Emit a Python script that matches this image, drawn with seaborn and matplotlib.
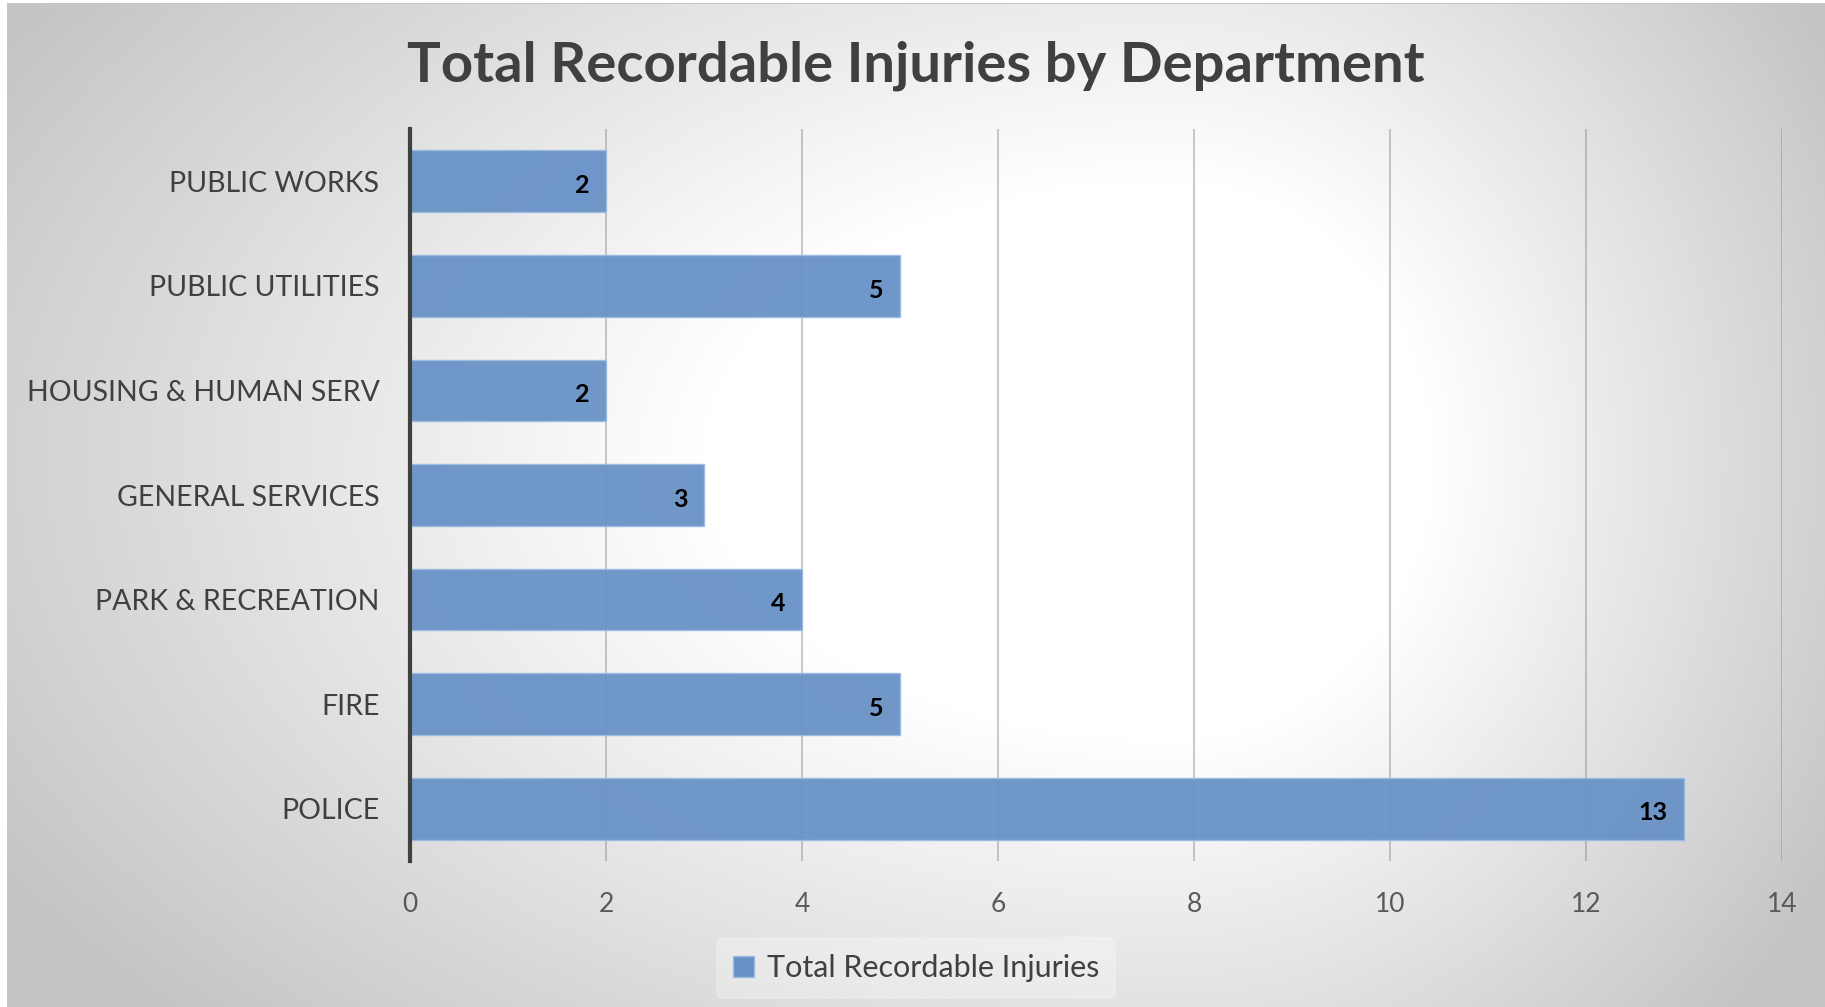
import numpy as np
import pandas as pd
import matplotlib
matplotlib.use("Agg")
import matplotlib.pyplot as plt
from matplotlib.patches import Patch
import seaborn as sns

# Chart data
departments = ["PUBLIC WORKS", "PUBLIC UTILITIES", "HOUSING & HUMAN SERV",
               "GENERAL SERVICES", "PARK & RECREATION", "FIRE", "POLICE"]
injuries = [2, 5, 2, 3, 4, 5, 13]
x_ticks = [0, 2, 4, 6, 8, 10, 12, 14]
series_name = "Total Recordable Injuries"
title_text = "Total Recordable Injuries by Department"

df = pd.DataFrame({"department": departments, "injuries": injuries})

sns.set_theme(style="white")
plt.rcParams["font.family"] = ["Lato", "DejaVu Sans"]

W, H, DPI = 1825, 1007, 100
fig = plt.figure(figsize=(W / DPI, H / DPI), dpi=DPI)

# Soft radial backdrop: white in the middle, grey towards the edges
cx, cy = 1170.0, 460.0
xx, yy = np.meshgrid(np.arange(W, dtype=float), np.arange(H, dtype=float))
u = np.where(xx < cx, (cx - xx) / cx, (xx - cx) / (W - cx))
v = np.abs(yy - cy) / 700.0
r = np.sqrt(u ** 2 + v ** 2)
shade = np.clip(1.0 - 0.30 * np.clip(r - 0.4, 0, None), 0.77, 1.0)
shade[:3, :] = 1.0
shade[3, 7:] = 0.78
shade[:, :7] = 1.0
rgb = np.dstack([shade, shade, shade])
bg = fig.add_axes([0, 0, 1, 1], zorder=-10)
bg.imshow(rgb, aspect="auto", interpolation="bilinear")
bg.axis("off")

bar_color = "#6892c6"
ax = fig.add_axes([410 / W, 1 - 861 / H, (1782 - 410) / W, (861 - 129) / H])
ax.set_facecolor("none")

sns.barplot(data=df, x="injuries", y="department", orient="h", color=bar_color,
            width=0.59, saturation=1, edgecolor="#9cbbe2", linewidth=1.0,
            alpha=0.95, ax=ax, zorder=3)

ax.set_xlim(0, 14)
ax.set_ylim(6.5, -0.5)
ax.set_xticks(x_ticks)
ax.set_xticklabels([str(t) for t in x_ticks])
ax.set_xlabel("")
ax.set_ylabel("")

# Vertical gridlines
for t in x_ticks[1:]:
    ax.axvline(t, color="#8a8a8a", alpha=0.5, linewidth=1.3, zorder=1)

for side in ["top", "right", "bottom"]:
    ax.spines[side].set_visible(False)
ax.spines["left"].set_color("#404040")
ax.spines["left"].set_linewidth(3)
ax.spines["left"].set_zorder(5)

ax.tick_params(axis="x", length=0, pad=22, labelsize=19, labelcolor="#595959")
ax.tick_params(axis="y", length=0, pad=22, labelsize=20.5, labelcolor="#404040")

# Value labels inside the bar ends
labels = ax.bar_label(ax.containers[0], labels=[str(v) for v in injuries],
                      padding=-12, fontsize=18, fontweight="bold", color="black")
for t in labels:
    t.set_ha("right")
    t.set_va("center")
    x_off, y_off = t.xyann
    t.xyann = (x_off, y_off - 3)

fig.text(0.502, 1 - 66 / H, title_text, ha="center", va="center",
         fontsize=40.5, fontweight="bold", color="#404040")

handle = Patch(facecolor=bar_color, edgecolor="#9cbbe2", linewidth=1.0)
leg = fig.legend([handle], [series_name], loc="center",
                 bbox_to_anchor=(916 / W, 1 - 968 / H), frameon=True,
                 fontsize=22, handlelength=0.7, handleheight=0.7,
                 handletextpad=0.4, borderpad=0.55, labelcolor="#404040")
leg.get_frame().set_facecolor("white")
leg.get_frame().set_alpha(0.3)
leg.get_frame().set_edgecolor("none")

fig.savefig("out.png", dpi=DPI)
